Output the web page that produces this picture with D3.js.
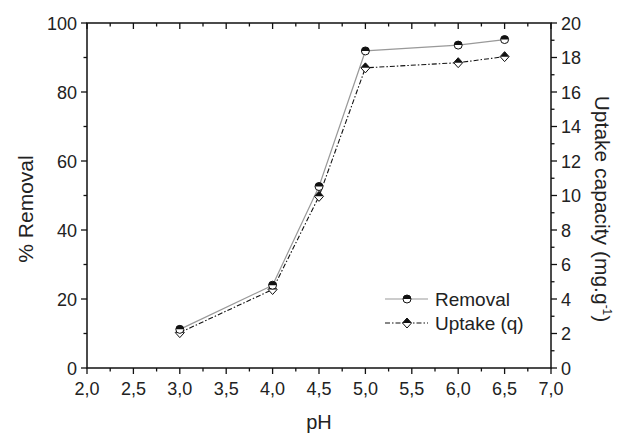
<!DOCTYPE html>
<html>
<body style="margin:0;background:#fff">
<meta charset="UTF-8">
<style>
    body { font-family: "Liberation Sans", Arial, sans-serif; }
    text { fill: #222; }
</style>
<script src="https://d3js.org/d3.v7.min.js"></script>
<script>

    var pH = [3.0, 4.0, 4.5, 5.0, 6.0, 6.5];
    var removal = [11.2, 24.0, 52.6, 91.9, 93.6, 95.2];
    var uptake = [2.05, 4.55, 9.95, 17.4, 17.7, 18.05];
    var xTicks = [2.0, 2.5, 3.0, 3.5, 4.0, 4.5, 5.0, 5.5, 6.0, 6.5, 7.0];
    var leftTicks = [0, 20, 40, 60, 80, 100];
    var rightTicks = [0, 2, 4, 6, 8, 10, 12, 14, 16, 18, 20];

    var width = 617, height = 433;
    var pLeft = 87, pRight = 551, pTop = 23, pBottom = 368;

    var svg = d3.select("body").append("svg")
        .attr("width", width)
        .attr("height", height);

    var x = d3.scaleLinear().domain([2, 7]).range([pLeft, pRight]);
    var yL = d3.scaleLinear().domain([0, 100]).range([pBottom, pTop]);
    var yR = d3.scaleLinear().domain([0, 20]).range([pBottom, pTop]);

    var fmt = function(d) { return d3.format(".1f")(d).replace(".", ","); };

    // frame
    svg.append("rect")
        .attr("x", pLeft).attr("y", pTop)
        .attr("width", pRight - pLeft).attr("height", pBottom - pTop)
        .attr("fill", "none").attr("stroke", "#111").attr("stroke-width", 1.5);

    var ax = svg.append("g").attr("stroke", "#111").attr("stroke-width", 1.3);

    // bottom + top ticks
    d3.range(2, 7.001, 0.25).forEach(function(v) {
        var major = Math.abs(v * 2 - Math.round(v * 2)) < 1e-6;
        var len = major ? 6 : 3.5;
        ax.append("line").attr("x1", x(v)).attr("x2", x(v))
            .attr("y1", pBottom).attr("y2", pBottom + len);
        ax.append("line").attr("x1", x(v)).attr("x2", x(v))
            .attr("y1", pTop).attr("y2", pTop + len);
    });
    // left ticks
    d3.range(0, 100.001, 10).forEach(function(v) {
        var len = v % 20 === 0 ? 6 : 3.5;
        ax.append("line").attr("x1", pLeft - len).attr("x2", pLeft)
            .attr("y1", yL(v)).attr("y2", yL(v));
    });
    // right ticks
    d3.range(0, 20.001, 1).forEach(function(v) {
        var len = v % 2 === 0 ? 6 : 3.5;
        ax.append("line").attr("x1", pRight).attr("x2", pRight + len)
            .attr("y1", yR(v)).attr("y2", yR(v));
    });

    svg.append("g").selectAll("text").data(xTicks).enter().append("text")
        .attr("x", function(d) { return x(d); })
        .attr("y", 395)
        .attr("text-anchor", "middle")
        .style("font-size", "18px")
        .text(fmt);

    svg.append("g").selectAll("text").data(leftTicks).enter().append("text")
        .attr("x", 77)
        .attr("y", function(d) { return yL(d) + 6.5; })
        .attr("text-anchor", "end")
        .style("font-size", "18px")
        .text(function(d) { return d; });

    svg.append("g").selectAll("text").data(rightTicks).enter().append("text")
        .attr("x", 561)
        .attr("y", function(d) { return yR(d) + 6.5; })
        .attr("text-anchor", "start")
        .style("font-size", "18px")
        .text(function(d) { return d; });

    svg.append("text")
        .attr("x", (pLeft + pRight) / 2).attr("y", 429)
        .attr("text-anchor", "middle")
        .style("font-size", "20px")
        .text("pH");

    svg.append("text")
        .attr("transform", "translate(33,209) rotate(-90)")
        .attr("text-anchor", "middle")
        .style("font-size", "21px")
        .text("% Removal");

    var rl = svg.append("text")
        .attr("transform", "translate(595,209) rotate(90)")
        .attr("text-anchor", "middle")
        .style("font-size", "21px");
    rl.append("tspan").text("Uptake capacity (mg.g");
    rl.append("tspan").attr("dy", -8).style("font-size", "12px").text("-1");
    rl.append("tspan").attr("dy", 8).text(")");

    // lines
    var lineR = d3.line().x(function(d, i) { return x(pH[i]); }).y(function(d) { return yL(d); });
    var lineU = d3.line().x(function(d, i) { return x(pH[i]); }).y(function(d) { return yR(d); });

    svg.append("path").datum(removal).attr("d", lineR)
        .attr("fill", "none").attr("stroke", "#999").attr("stroke-width", 1.2);
    svg.append("path").datum(uptake).attr("d", lineU)
        .attr("fill", "none").attr("stroke", "#111").attr("stroke-width", 1.1)
        .attr("stroke-dasharray", "5,2,1.5,2");

    function circleMark(g, cx, cy) {
        var r = 4;
        g.append("circle").attr("cx", cx).attr("cy", cy).attr("r", r)
            .attr("fill", "#fff").attr("stroke", "#111").attr("stroke-width", 1);
        g.append("path")
            .attr("d", "M" + (cx - r) + "," + cy + " A" + r + "," + r + " 0 0 1 " + (cx + r) + "," + cy + " Z")
            .attr("fill", "#111");
    }
    function diamondMark(g, cx, cy) {
        var w = 4.5, h = 5;
        g.append("path")
            .attr("d", "M" + cx + "," + (cy - h) + " L" + (cx + w) + "," + cy + " L" + cx + "," + (cy + h) + " L" + (cx - w) + "," + cy + " Z")
            .attr("fill", "#fff").attr("stroke", "#111").attr("stroke-width", 1);
        g.append("path")
            .attr("d", "M" + cx + "," + (cy - h) + " L" + (cx + w) + "," + cy + " L" + (cx - w) + "," + cy + " Z")
            .attr("fill", "#111");
    }

    var mk = svg.append("g");
    uptake.forEach(function(d, i) { diamondMark(mk, x(pH[i]), yR(d)); });
    removal.forEach(function(d, i) { circleMark(mk, x(pH[i]), yL(d)); });

    // legend
    var lg = svg.append("g");
    lg.append("line").attr("x1", 385).attr("x2", 428).attr("y1", 299).attr("y2", 299)
        .attr("stroke", "#999").attr("stroke-width", 1.2);
    circleMark(lg, 407, 299);
    lg.append("text").attr("x", 435).attr("y", 305.5).style("font-size", "19px").text("Removal");
    lg.append("line").attr("x1", 385).attr("x2", 428).attr("y1", 323).attr("y2", 323)
        .attr("stroke", "#111").attr("stroke-width", 1.1).attr("stroke-dasharray", "5,2,1.5,2");
    diamondMark(lg, 407, 323);
    lg.append("text").attr("x", 435).attr("y", 329.5).style("font-size", "19px").text("Uptake (q)");

</script>
</body>
</html>
